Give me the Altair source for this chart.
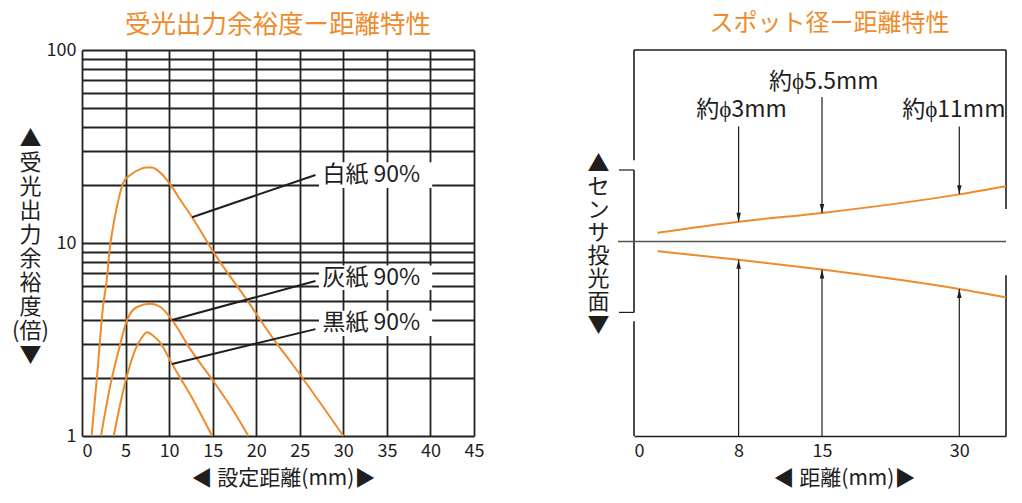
import altair as alt
import pandas as pd

ORANGE = "#EF8B2C"
INK = "#1e1e1e"
GRID = "#222222"
FONT = "Noto Sans CJK JP"

W_L, W_R, H = 392, 372, 386

# ---------------- left panel: 受光出力余裕度ー距離特性 ----------------
white_x = [1.1, 1.75, 2.41, 2.87, 3.14, 3.52, 4.02, 4.8, 5.67, 6.82, 7.4, 7.97, 9.1, 10.15, 11.49, 12.64, 13.79, 14.94, 18.97, 22.03, 24.14, 30.0]
white_y = [1.0, 2.1, 4.66, 6.6, 9.0, 11.8, 15.5, 20.8, 22.7, 24.3, 24.6, 24.6, 22.9, 20.0, 16.2, 13.6, 11.2, 9.2, 5.04, 3.16, 2.36, 1.0]
gray_x = [2.18, 3.25, 4.14, 5.17, 6.32, 7.85, 9.0, 10.34, 12.45, 15.13, 17.43, 19.1]
gray_y = [1.0, 1.83, 2.7, 3.99, 4.66, 4.84, 4.66, 3.99, 2.81, 1.91, 1.34, 1.0]
black_x = [3.64, 4.98, 6.13, 6.8, 7.47, 8.2, 9.0, 10.34, 12.45, 14.94]
black_y = [1.0, 1.91, 2.81, 3.2, 3.45, 3.3, 3.04, 2.36, 1.63, 1.0]

x_ticks_left = [0, 5, 10, 15, 20, 25, 30, 35, 40, 45]
y_grid_left = [1, 2, 3, 4, 5, 6, 7, 8, 9, 10, 20, 30, 40, 50, 60, 70, 80, 90, 100]

label_texts = ["白紙 90%", "灰紙 90%", "黒紙 90%"]
label_x = [27.6, 27.6, 27.6]
label_y = [22.5, 6.61, 3.84]
lead_x1 = [12.64, 10.34, 10.34]
lead_y1 = [13.6, 3.99, 2.36]
lead_x2 = [26.8, 26.8, 26.8]
lead_y2 = [22.5, 6.36, 3.58]
box_x1 = [27.2, 27.2, 27.2]
box_x2 = [40.2, 40.2, 40.2]
box_y1 = [19.3, 5.7, 3.3]
box_y2 = [26.2, 7.65, 4.45]

# ---------------- right panel: スポット径ー距離特性 ----------------
spot_x = [1.8, 8, 15, 30, 36]
spot_upper = [9.0, 20.3, 29.3, 48.3, 56.6]
spot_lower = [-10.0, -18.7, -28.7, -48.7, -57.4]
x_ticks_right = [0, 8, 15, 30]
x_breaks_right = [0, 8, 15, 30, 36]
x_pixels_right = [0, 104.6, 188, 325.3, W_R]
arrow_x = [8, 15, 30]
arrow_top = [118, 148, 118]
spot_labels = ["約ϕ3mm", "約ϕ5.5mm", "約ϕ11mm"]
spot_label_x = [8.25, 15.2, 29.4]
spot_label_y = [135, 163, 135]
Y_TOP, Y_BOT = 196.3, -199.4
bracket_y = [73.3, -72.7]
frame_x = [0, 0, 0, 36, 36, 0]
frame_x2 = [0, 0, 0, 36, 36, 36]
frame_y = [Y_TOP, 73.3, -81.7, Y_TOP, -34.7, Y_TOP]
frame_y2 = [83.3, -72.7, Y_BOT, 33.3, Y_BOT, Y_TOP]

# ---------------- tables ----------------
rows = []
for name, xs, ys in [("白紙", white_x, white_y), ("灰紙", gray_x, gray_y), ("黒紙", black_x, black_y)]:
    for a, b in zip(xs, ys):
        rows.append({"series": name, "x": a, "y": b})
curves_df = pd.DataFrame(rows)
lead_df = pd.DataFrame({"x": lead_x1, "y": lead_y1, "x2": lead_x2, "y2": lead_y2})
box_df = pd.DataFrame({"x": box_x1, "x2": box_x2, "y": box_y1, "y2": box_y2})
lab_df = pd.DataFrame({"x": label_x, "y": label_y, "t": label_texts})

xsL = alt.Scale(domain=[0, 45], nice=False, zero=False)
ysL = alt.Scale(type="log", domain=[1, 100], nice=False)

axis_xL = alt.Axis(
    values=x_ticks_left, grid=True, gridColor=GRID, gridWidth=1.8, gridOpacity=1,
    ticks=False, domain=False, labelFont=FONT, labelFontSize=18, labelColor=INK,
    labelPadding=6,
    labelAlign={"condition": {"test": "datum.value == 0", "value": "left"}, "value": "center"},
    title="◀ 設定距離(mm)▶", titleFont=FONT, titleFontSize=21, titleFontWeight="normal",
    titleColor=INK, titleX=W_L / 2 + 5, titleY=42, titleBaseline="middle", titleAlign="center",
)
axis_yL = alt.Axis(
    values=y_grid_left, grid=True, gridColor=GRID, gridWidth=1.8, gridOpacity=1,
    ticks=False, domain=False, labelOverlap=False,
    labelExpr="(datum.value == 1 || datum.value == 10 || datum.value == 100) ? datum.value + '' : ''",
    labelFont=FONT, labelFontSize=18, labelColor=INK, labelPadding=6,
    title=["▲", "受", "光", "出", "力", "余", "裕", "度", "(倍)", "▼"],
    titleAngle=0, titleX=-52, titleY=88, titleAlign="center", titleBaseline="middle",
    titleFont=FONT, titleFontSize=22, titleFontWeight="normal", titleColor=INK, titleLineHeight=24,
)

curvesL = alt.Chart(curves_df).mark_line(color=ORANGE, strokeWidth=2, interpolate="monotone").encode(
    x=alt.X("x:Q", scale=xsL, axis=axis_xL),
    y=alt.Y("y:Q", scale=ysL, axis=axis_yL),
    detail="series:N",
)
leadL = alt.Chart(lead_df).mark_rule(color=INK, strokeWidth=2).encode(
    x=alt.X("x:Q", scale=xsL), y=alt.Y("y:Q", scale=ysL), x2="x2:Q", y2="y2:Q"
)
boxL = alt.Chart(box_df).mark_rect(color="white").encode(
    x=alt.X("x:Q", scale=xsL), y=alt.Y("y:Q", scale=ysL), x2="x2:Q", y2="y2:Q"
)
textL = alt.Chart(lab_df).mark_text(align="left", baseline="middle", font=FONT, fontSize=23, color=INK).encode(
    x=alt.X("x:Q", scale=xsL), y=alt.Y("y:Q", scale=ysL), text="t:N"
)
left = alt.layer(curvesL, leadL, boxL, textL).properties(
    width=W_L, height=H,
    title=alt.TitleParams("受光出力余裕度ー距離特性", font=FONT, fontSize=25.5, fontWeight="normal",
                          color=ORANGE, offset=3, anchor="middle"),
)

# right tables
spot_rows = []
for a, u, l in zip(spot_x, spot_upper, spot_lower):
    spot_rows.append({"d": a, "v": u, "side": "upper"})
    spot_rows.append({"d": a, "v": l, "side": "lower"})
spot_df = pd.DataFrame(spot_rows)
frame_df = pd.DataFrame({"d": frame_x, "d2": frame_x2, "v": frame_y, "v2": frame_y2})
arr_rows, head_dn, head_up = [], [], []
for ax, top in zip(arrow_x, arrow_top):
    i = spot_x.index(ax)
    arr_rows.append({"d": ax, "v": top, "v2": spot_upper[i]})
    arr_rows.append({"d": ax, "v": Y_BOT, "v2": spot_lower[i]})
    head_dn.append({"d": ax, "v": spot_upper[i]})
    head_up.append({"d": ax, "v": spot_lower[i]})
arr_df = pd.DataFrame(arr_rows)
head_dn_df = pd.DataFrame(head_dn)
head_up_df = pd.DataFrame(head_up)
center_df = pd.DataFrame({"v": [0]})
bracket_df = pd.DataFrame({"v": bracket_y})
slab_df = pd.DataFrame({"d": spot_label_x, "v": spot_label_y, "t": spot_labels})

xsR = alt.Scale(domain=x_breaks_right, range=x_pixels_right, nice=False, zero=False)
ysR = alt.Scale(domain=[Y_BOT, Y_TOP], nice=False, zero=False)

axis_xR = alt.Axis(
    values=x_ticks_right, grid=False, ticks=False, domain=True, domainColor=INK, domainWidth=1.6,
    labelFont=FONT, labelFontSize=18, labelColor=INK, labelPadding=6,
    title="◀ 距離(mm)▶", titleFont=FONT, titleFontSize=21, titleFontWeight="normal",
    titleColor=INK, titleX=210, titleY=42, titleBaseline="middle", titleAlign="center",
)
axis_yR = alt.Axis(
    grid=False, ticks=False, domain=False, labels=False,
    title=["▲", "セ", "ン", "サ", "投", "光", "面", "▼"],
    titleAngle=0, titleX=-36, titleY=113, titleAlign="center", titleBaseline="middle",
    titleFont=FONT, titleFontSize=22, titleFontWeight="normal", titleColor=INK, titleLineHeight=23,
)

frameR = alt.Chart(frame_df).mark_rule(color=INK, strokeWidth=1.6).encode(
    x=alt.X("d:Q", scale=xsR, axis=axis_xR), y=alt.Y("v:Q", scale=ysR, axis=axis_yR),
    x2="d2:Q", y2="v2:Q",
)
centerR = alt.Chart(center_df).mark_rule(color="#555555", strokeWidth=1.5).encode(
    y=alt.Y("v:Q", scale=ysR), x=alt.value(-16), x2=alt.value(W_R)
)
bracketR = alt.Chart(bracket_df).mark_rule(color=INK, strokeWidth=1.2).encode(
    y=alt.Y("v:Q", scale=ysR), x=alt.value(-15), x2=alt.value(0)
)
curvesR = alt.Chart(spot_df).mark_line(color=ORANGE, strokeWidth=2, interpolate="monotone").encode(
    x=alt.X("d:Q", scale=xsR), y=alt.Y("v:Q", scale=ysR), detail="side:N"
)
arrowsR = alt.Chart(arr_df).mark_rule(color=INK, strokeWidth=1.2).encode(
    x=alt.X("d:Q", scale=xsR), y=alt.Y("v:Q", scale=ysR), y2="v2:Q"
)
headsDn = alt.Chart(head_dn_df).mark_point(
    shape="M0,0L-0.5,-2L0.5,-2Z", size=81, filled=True, color=INK, opacity=1
).encode(x=alt.X("d:Q", scale=xsR), y=alt.Y("v:Q", scale=ysR))
headsUp = alt.Chart(head_up_df).mark_point(
    shape="M0,0L-0.5,2L0.5,2Z", size=81, filled=True, color=INK, opacity=1
).encode(x=alt.X("d:Q", scale=xsR), y=alt.Y("v:Q", scale=ysR))
labelsR = alt.Chart(slab_df).mark_text(align="center", baseline="middle", font=FONT, fontSize=23, color=INK).encode(
    x=alt.X("d:Q", scale=xsR), y=alt.Y("v:Q", scale=ysR), text="t:N"
)
right = alt.layer(frameR, centerR, bracketR, curvesR, arrowsR, headsDn, headsUp, labelsR).properties(
    width=W_R, height=H,
    title=alt.TitleParams("スポット径ー距離特性", font=FONT, fontSize=24, fontWeight="normal",
                          color=ORANGE, offset=13, dx=9.5, anchor="middle"),
)

chart = alt.hconcat(left, right, spacing=160, bounds="flush").properties(
    padding={"left": 3, "top": 3, "right": 2, "bottom": 1}
).configure_view(stroke="transparent")

chart.save("out.html", embed_options={"renderer": "svg", "actions": False})
